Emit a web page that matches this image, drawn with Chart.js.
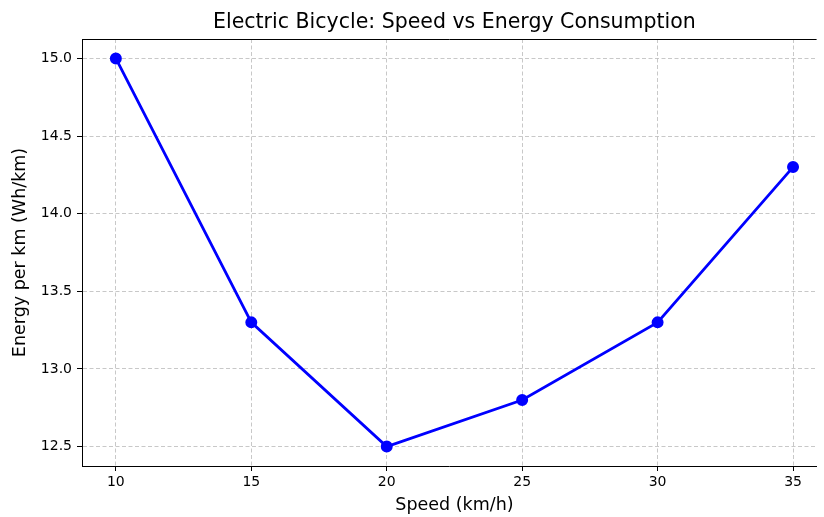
<!DOCTYPE html>
<html>
<head>
<meta charset="utf-8">
<script src="https://cdn.jsdelivr.net/npm/chart.js@4.4.1/dist/chart.umd.min.js"></script>
<style>
  html, body { margin: 0; padding: 0; background: #fff; overflow: hidden; width: 824px; height: 517px; }
  canvas { display: block; }
</style>
</head>
<body>
<canvas id="chart" width="824" height="517"></canvas>
<script>
// data
const speeds = [10, 15, 20, 25, 30, 35];
const energy = [15.0, 13.3, 12.5, 12.8, 13.3, 14.3];
const xTicks = [10, 15, 20, 25, 30, 35];
const yTicks = [12.5, 13.0, 13.5, 14.0, 14.5, 15.0];

const FONT = 'DejaVu Sans';
// the original plot runs past the right edge of the picture (x view ends ~35.87)
const X_MIN = 8.75, X_MAX = 35.87, FULL_X_MAX = 36.25;

// title centred on the full (uncropped) plot, plus top spine
const frameAndTitle = {
    id: 'frameAndTitle',
    afterDraw(chart) {
        const ctx = chart.ctx;
        const a = chart.chartArea;
        const xs = chart.scales.x;
        ctx.save();
        ctx.strokeStyle = '#000';
        ctx.lineWidth = 1;
        ctx.beginPath();
        ctx.moveTo(a.left, a.top + 0.5);
        ctx.lineTo(a.right, a.top + 0.5);
        ctx.stroke();
        ctx.fillStyle = '#000';
        ctx.font = '20.5px "' + FONT + '"';
        ctx.textAlign = 'center';
        ctx.textBaseline = 'middle';
        const cx = (a.left + xs.getPixelForValue(FULL_X_MAX)) / 2;
        ctx.fillText('Electric Bicycle: Speed vs Energy Consumption', cx, 23);
        ctx.restore();
    }
};

new Chart(document.getElementById('chart'), {
    type: 'line',
    data: {
        datasets: [{
            data: speeds.map((s, i) => ({ x: s, y: energy[i] })),
            borderColor: '#0000ff',
            backgroundColor: '#0000ff',
            borderWidth: 2.8,
            pointRadius: 4.6,
            pointHoverRadius: 4.6,
            tension: 0
        }]
    },
    options: {
        responsive: false,
        animation: false,
        layout: { padding: { top: 39, right: 0, left: 0, bottom: 0 } },
        plugins: { legend: { display: false }, tooltip: { enabled: false } },
        scales: {
            x: {
                type: 'linear',
                min: X_MIN,
                max: X_MAX,
                afterBuildTicks: (axis) => { axis.ticks = xTicks.map(v => ({ value: v })); },
                afterFit: (axis) => { axis.height = 51; },
                grid: {
                    color: 'rgba(176,176,176,0.7)',
                    tickColor: '#000',
                    tickLength: 5,
                    tickBorderDash: []
                },
                border: { display: true, color: '#000', width: 1, dash: [4, 2.5] },
                ticks: {
                    color: '#000',
                    padding: 3,
                    font: { family: FONT, size: 14 },
                    callback: (v) => String(v)
                },
                title: {
                    display: false
                }
            },
            y: {
                min: 12.375,
                max: 15.125,
                afterBuildTicks: (axis) => { axis.ticks = yTicks.map(v => ({ value: v })); },
                afterFit: (axis) => { axis.width = 82; },
                grid: {
                    color: 'rgba(176,176,176,0.7)',
                    tickColor: '#000',
                    tickLength: 5,
                    tickBorderDash: []
                },
                border: { display: true, color: '#000', width: 1, dash: [4, 2.5] },
                ticks: {
                    color: '#000',
                    padding: 5,
                    font: { family: FONT, size: 14 },
                    callback: (v) => v.toFixed(1)
                },
                title: {
                    display: true,
                    text: 'Energy per km (Wh/km)',
                    color: '#000',
                    font: { family: FONT, size: 17.5 },
                    padding: { top: 10, bottom: 0 }
                }
            }
        }
    },
    plugins: [frameAndTitle, {
        id: 'xTitle',
        afterDraw(chart) {
            const ctx = chart.ctx;
            const a = chart.chartArea;
            const cx = (a.left + chart.scales.x.getPixelForValue(FULL_X_MAX)) / 2;
            ctx.save();
            ctx.fillStyle = '#000';
            ctx.font = '17.5px "' + FONT + '"';
            ctx.textAlign = 'center';
            ctx.textBaseline = 'middle';
            ctx.fillText('Speed (km/h)', cx, 505);
            ctx.restore();
        }
    }]
});
</script>
</body>
</html>
